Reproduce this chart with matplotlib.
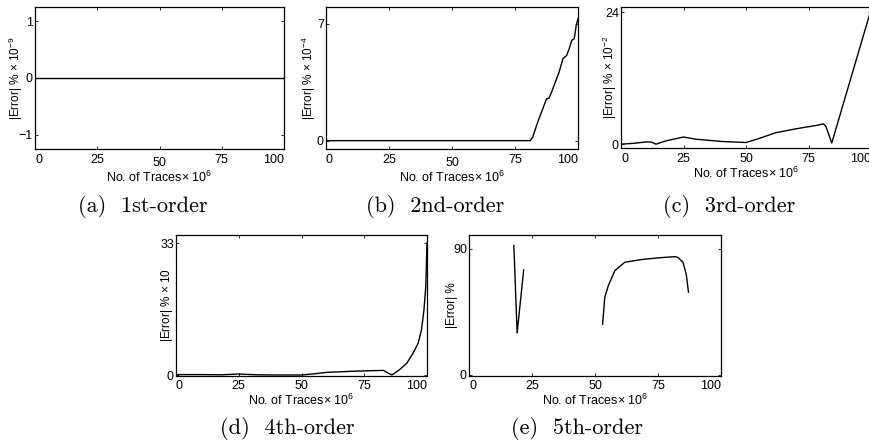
import numpy as np
import matplotlib
matplotlib.use("Agg")
from matplotlib import pyplot as plt
import matplotlib.transforms as mtransforms

plt.rcParams['font.family'] = ['Liberation Sans', 'DejaVu Sans']
plt.rcParams['mathtext.fontset'] = 'custom'
plt.rcParams['mathtext.rm'] = 'Liberation Sans'
plt.rcParams['mathtext.it'] = 'Liberation Sans:italic'
plt.rcParams['mathtext.bf'] = 'Liberation Sans:bold'

# values (x in millions of traces)
x1 = [0, 100]
y1 = [0, 0]

x2 = [0, 81, 82, 84, 86, 87.5, 88.5, 89.5, 91, 92.5, 94, 95.5, 96.5, 97.5, 98.5, 99.3, 100]
y2 = [0, 0, 0.2, 1.1, 1.9, 2.5, 2.55, 2.9, 3.5, 4.1, 4.9, 5.1, 5.5, 6.0, 6.1, 6.9, 7.3]

x3 = [0, 5, 10, 12, 14, 18, 25, 30, 40, 50, 55, 62, 70, 78, 81, 82, 84.3, 100]
y3 = [0, 0.15, 0.4, 0.4, 0, 0.6, 1.3, 0.9, 0.5, 0.3, 1.0, 2.1, 2.8, 3.4, 3.7, 3.2, 0.2, 24.5]

x4 = [0, 10, 18, 25, 32, 40, 50, 55, 60, 69, 76, 82.6, 86, 89, 92, 94.5, 96.5, 97.8, 98.8, 99.5, 100]
y4 = [0.1, 0.1, 0.05, 0.25, 0.05, 0, 0, 0.3, 0.65, 0.9, 1.05, 1.15, 0, 1.3, 3.0, 5.5, 8.0, 11.3, 16.3, 22.0, 33.0]

# two separate pieces in the 5th order curve (NaN breaks the line)
x5 = [17.8, 19.1, 21.7, np.nan, 53, 53.9, 55.3, 57.9, 61.8, 68.4, 75, 81.6, 82.9, 84.9, 86.2, 87.1]
y5 = [92.4, 29.8, 75, np.nan, 36, 55.5, 63.8, 74.5, 80.5, 82.4, 83.6, 84.5, 84.0, 80.5, 72, 59]

xticks = [0, 25, 50, 75, 100]
W, H = 869, 447

fig = plt.figure(figsize=(W / 100, H / 100), dpi=100)


def make_axes(left, top, right, bottom):
    return fig.add_axes([left / W, 1 - bottom / H, (right - left) / W, (bottom - top) / H])


def style(ax, x, y, ylim, yticks, ylabel, lab_dx, width_px, pad, shift50=False):
    ax.plot(x, y, color='black', lw=1.0)
    ax.set_xlim(0, 100)
    ax.set_ylim(*ylim)
    ax.set_xticks(xticks)
    ax.set_yticks(yticks)
    ax.tick_params(direction='in', length=2, width=0.6, top=True, right=True,
                   labelsize=9, pad=1.5)
    ax.tick_params(axis='x', pad=pad)
    for s in ax.spines.values():
        s.set_linewidth(0.9)
    ax.set_xlabel(r'No. of Traces$\times$ 10$^6$', fontsize=9, labelpad=0.5)
    ax.set_ylabel(ylabel, fontsize=8.5)
    ax.yaxis.set_label_coords(lab_dx / width_px, 0.5)
    labels = ax.get_xticklabels()
    labels[0].set_ha('left')
    labels[-1].set_ha('right')
    if shift50:
        off = mtransforms.ScaledTranslation(0, -3.5 / 100, fig.dpi_scale_trans)
        labels[2].set_transform(labels[2].get_transform() + off)


axa = make_axes(35, 7, 284, 149)
style(axa, x1, y1, (-1.25, 1.25), [-1, 0, 1], r'|Error| % $\times$ 10$^{-9}$', -10, 249, 3.5, True)

axb = make_axes(326, 7, 578, 149)
style(axb, x2, y2, (-0.5, 8), [0, 7], r'|Error| % $\times$ 10$^{-4}$', -8, 252, 3.5, True)

axc = make_axes(621, 7, 871, 148)
style(axc, x3, y3, (-0.7, 25), [0, 24], r'|Error| % $\times$ 10$^{-2}$', -2, 250, 3.5)

axd = make_axes(176, 235, 427, 376)
style(axd, x4, y4, (-0.25, 35), [0, 33], r'|Error| % $\times$ 10', -1, 251, 3)

axe = make_axes(469, 235, 721, 376)
style(axe, x5, y5, (-1, 100), [0, 90], '|Error| %', -11, 252, 3)

captions = ['(a)  1st-order', '(b)  2nd-order', '(c)  3rd-order', '(d)  4th-order', '(e)  5th-order']
cap_pos = [(143, 207), (435, 207), (729, 207), (287, 429), (577, 429)]
for txt, (cx, cy) in zip(captions, cap_pos):
    fig.text(cx / W, 1 - cy / H, txt, ha='center', va='center', family='cmr10', fontsize=16)

fig.savefig('out.png', dpi=100)
